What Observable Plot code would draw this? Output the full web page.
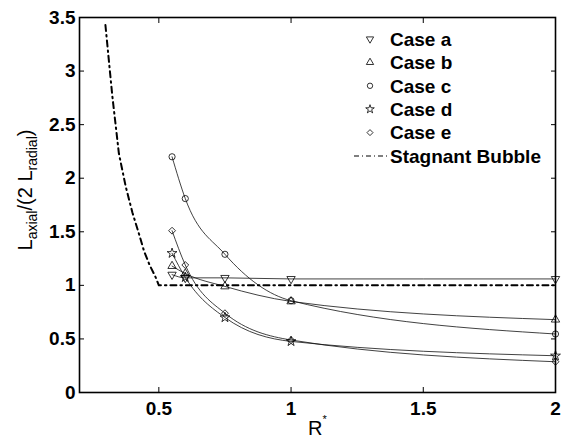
<!DOCTYPE html>
<html><head><meta charset="utf-8">
<script src="https://cdn.jsdelivr.net/npm/d3@7"></script>
<script src="https://cdn.jsdelivr.net/npm/@observablehq/plot@0.6"></script>
<style>body{margin:0;background:#fff}#chart{position:relative;width:564px;height:439px}</style>
</head><body><div id="chart"></div>
<script>
// R* positions of the measured points
const rStar = [0.55, 0.6, 0.75, 1, 2];
// L_axial/(2 L_radial) for each case
const caseA = [1.10, 1.07, 1.07, 1.06, 1.06];
const caseB = [1.18, 1.11, 0.99, 0.85, 0.68];
const caseC = [2.20, 1.81, 1.29, 0.857, 0.546];
const caseD = [1.30, 1.075, 0.70, 0.477, 0.343];
const caseE = [1.51, 1.19, 0.74, 0.49, 0.287];
// Stagnant bubble reference curve
const stagX = [0.298, 0.324, 0.349, 0.375, 0.40, 0.425, 0.444, 0.465, 0.488, 0.5, 2];
const stagY = [3.43, 2.77, 2.23, 1.92, 1.68, 1.48, 1.32, 1.19, 1.075, 1.0, 1.0];
const caseNames = ["Case a", "Case b", "Case c", "Case d", "Case e"];
const stagName = "Stagnant Bubble";
const xTicks = [0.5, 1, 1.5, 2];
const yTicks = [0, 0.5, 1, 1.5, 2, 2.5, 3, 3.5];

const caseValues = [caseA, caseB, caseC, caseD, caseE];
const symbolSpec = [
  {symbol: "triangle", rotate: 180},
  {symbol: "triangle", rotate: 0},
  {symbol: "circle", rotate: 0},
  {symbol: "star", rotate: 0},
  {symbol: "diamond2", rotate: 0}
];
const rows = caseNames.flatMap((name, i) => rStar.map((r, j) => ({name, r, v: caseValues[i][j]})));
const stag = stagX.map((x, i) => ({x, y: stagY[i]}));

const FONT = "'Liberation Sans', Arial, Helvetica, sans-serif";
const DASH = "6,4,1.5,4";
const R = 3.1;

const marks = [
  Plot.line(rows, {x: "r", y: "v", z: "name", curve: "monotone-x", stroke: "#111", strokeWidth: 0.8}),
  Plot.line(stag, {x: "x", y: "y", stroke: "#000", strokeWidth: 2, strokeDasharray: DASH}),
  ...caseNames.map((name, i) => Plot.dot(rows.filter(d => d.name === name), {
    x: "r", y: "v", symbol: symbolSpec[i].symbol, rotate: symbolSpec[i].rotate,
    r: R, stroke: "#000", strokeWidth: 0.8, fill: "none"
  })),
  Plot.axisX(xTicks, {anchor: "bottom", tickSize: -5, tickFormat: () => "", label: null}),
  Plot.axisX(xTicks, {anchor: "top", tickSize: -5, tickFormat: () => "", label: null}),
  Plot.axisY(yTicks, {anchor: "left", tickSize: -5, tickFormat: () => "", label: null}),
  Plot.axisY(yTicks, {anchor: "right", tickSize: -5, tickFormat: () => "", label: null}),
  Plot.axisX(xTicks, {anchor: "bottom", tickSize: 0, tickPadding: 9, tickFormat: d => String(d), label: null, fontWeight: "bold", fontSize: 19}),
  Plot.axisY(yTicks, {anchor: "left", tickSize: 0, tickPadding: 4, tickFormat: d => String(d), label: null, fontWeight: "bold", fontSize: 19}),
  Plot.frame({stroke: "#000", strokeWidth: 1.6})
];

const chart = Plot.plot({
  width: 564, height: 439,
  marginLeft: 79, marginRight: 9, marginTop: 17, marginBottom: 47,
  x: {domain: [0.2, 2]},
  y: {domain: [0, 3.5]},
  style: {fontFamily: FONT, fontSize: "18px", color: "#000", background: "#fff"},
  marks
});
document.getElementById("chart").appendChild(chart);

const svg = d3.select(chart);
// Axis titles
const yl = svg.append("text")
  .attr("transform", "translate(32,190) rotate(-90)")
  .attr("text-anchor", "middle").attr("font-size", 20).attr("fill", "#000");
yl.append("tspan").text("L");
yl.append("tspan").attr("font-size", 14).attr("dy", 5).text("axial");
yl.append("tspan").attr("dy", -5).text("/(2 L");
yl.append("tspan").attr("font-size", 14).attr("dy", 5).text("radial");
yl.append("tspan").attr("dy", -5).text(")");

const xl = svg.append("text").attr("x", 308).attr("y", 435)
  .attr("text-anchor", "start").attr("font-size", 20).attr("fill", "#000");
xl.append("tspan").text("R");
xl.append("tspan").attr("font-size", 11).attr("dx", 0).attr("dy", -12).text("*");

// Legend
const leg = svg.append("g").attr("font-weight", "bold").attr("font-size", 19)
  .attr("fill", "#000").attr("text-anchor", "start");
const legNames = [...caseNames, stagName];
legNames.forEach((name, i) => {
  const cy = 39 + i * 23.4;
  if (i < caseNames.length) {
    const s = symbolSpec[i];
    const type = {triangle: d3.symbolTriangle, circle: d3.symbolCircle, star: d3.symbolStar, diamond2: d3.symbolDiamond2}[s.symbol];
    leg.append("path").attr("d", d3.symbol(type, Math.PI * 2.7 * 2.7)())
      .attr("transform", `translate(370,${cy}) rotate(${s.rotate})`)
      .attr("fill", "none").attr("stroke", "#000").attr("stroke-width", 0.8);
  } else {
    leg.append("line").attr("x1", 354).attr("x2", 388).attr("y1", cy).attr("y2", cy)
      .attr("stroke", "#000").attr("stroke-width", 1.2).attr("stroke-dasharray", "5,3,1,3");
  }
  leg.append("text").attr("x", 390).attr("y", cy).attr("dy", "0.36em").attr("text-anchor", "start").text(name);
});
</script>
</body></html>
